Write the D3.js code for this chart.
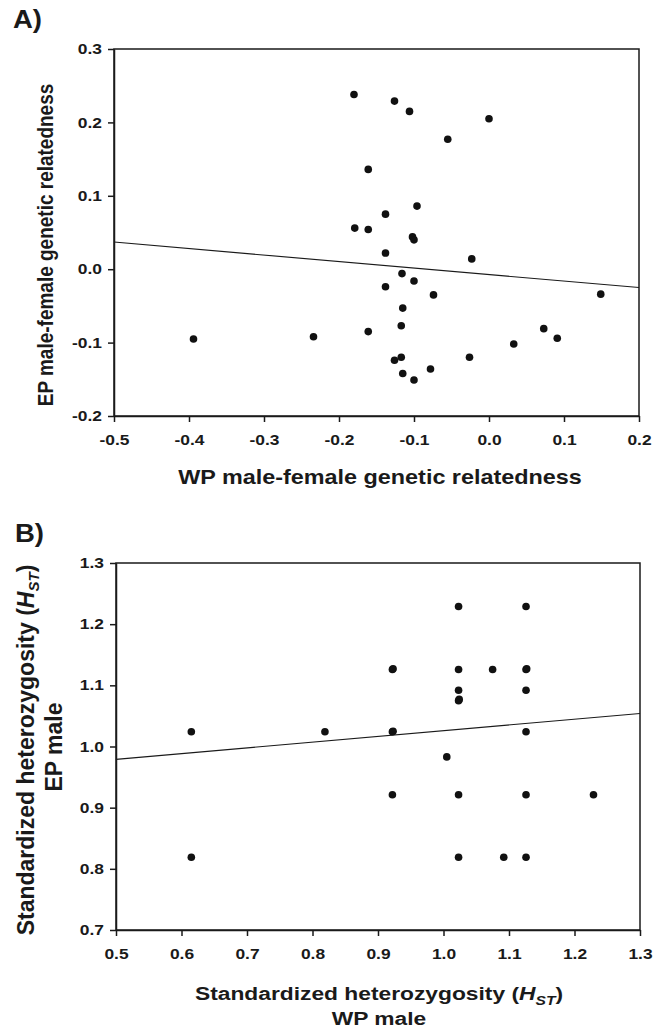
<!DOCTYPE html>
<html>
<head>
<meta charset="utf-8">
<style>
body { margin: 0; background: #fff; }
text { font-family: "Liberation Sans", Arial, Helvetica, sans-serif; font-weight: bold; fill: #1a1a1a; }
</style>
</head>
<body>
<div id="chart"></div>
<script src="https://d3js.org/d3.v7.min.js"></script>
<script>
// panel A: male-female genetic relatedness (WP vs EP)
var relWP = [-0.180, -0.126, -0.106, 0.000, -0.055, -0.161, -0.096, -0.138, -0.179, -0.161,
             -0.102, -0.100, -0.138, -0.023, -0.116, -0.100, -0.138, -0.074, 0.149, -0.115,
             -0.117, -0.161, 0.073, 0.091, -0.234, -0.394, 0.033, -0.126, -0.117, -0.026,
             -0.115, -0.078, -0.100];
var relEP = [0.238, 0.229, 0.215, 0.205, 0.177, 0.136, 0.086, 0.075, 0.056, 0.054,
             0.044, 0.040, 0.022, 0.014, -0.006, -0.016, -0.024, -0.035, -0.034, -0.053,
             -0.077, -0.085, -0.081, -0.094, -0.092, -0.095, -0.102, -0.124, -0.120, -0.120,
             -0.142, -0.136, -0.151];
var relFitX = [-0.5, 0.2];
var relFitY = [0.037, -0.025];
var relXTicks = [-0.5, -0.4, -0.3, -0.2, -0.1, 0.0, 0.1, 0.2];
var relYTicks = [-0.2, -0.1, 0.0, 0.1, 0.2, 0.3];

// panel B: standardized heterozygosity (WP male vs EP male)
var hetWP = [0.615, 0.615, 0.819, 0.922, 0.923, 0.922, 0.923, 0.922, 1.023, 1.023,
             1.023, 1.023, 1.024, 1.005, 1.023, 1.023, 1.075, 1.092, 1.126, 1.126,
             1.127, 1.126, 1.126, 1.126, 1.126, 1.229];
var hetEP = [1.024, 0.819, 1.024, 1.126, 1.127, 1.024, 1.025, 0.921, 1.229, 1.126,
             1.092, 1.075, 1.077, 0.983, 0.921, 0.819, 1.126, 0.819, 1.229, 1.126,
             1.127, 1.092, 1.024, 0.921, 0.819, 0.921];
var hetFitX = [0.5, 1.3];
var hetFitY = [0.979, 1.054];
var hetXTicks = [0.5, 0.6, 0.7, 0.8, 0.9, 1.0, 1.1, 1.2, 1.3];
var hetYTicks = [0.7, 0.8, 0.9, 1.0, 1.1, 1.2, 1.3];

var W = 665, H = 1029;
var SX = 1.2; // the figure is a little wider than its type

var svg = d3.select("#chart").append("svg")
    .attr("width", W).attr("height", H);

// plain hyphen for negatives, like the original
var fmt = function (v) { return d3.format(".1f")(v).replace("\u2212", "-"); };

function drawPanel(p) {
    var x = d3.scaleLinear().domain(p.xDomain).range([p.left, p.right]);
    var y = d3.scaleLinear().domain(p.yDomain).range([p.bottom, p.top]);
    var g = svg.append("g");

    // frame
    g.append("rect")
        .attr("x", p.left).attr("y", p.top)
        .attr("width", p.right - p.left).attr("height", p.bottom - p.top)
        .attr("fill", "none").attr("stroke", "#1a1a1a").attr("stroke-width", 1.5);

    var xa = g.append("g")
        .attr("transform", "translate(0," + p.bottom + ")")
        .call(d3.axisBottom(x).tickValues(p.xTicks).tickFormat(fmt).tickSize(6).tickSizeOuter(0));
    xa.selectAll("text")
        .attr("y", 19)
        .attr("transform", "scale(" + SX + ",1)")
        .style("font-size", "14.5px");

    var ya = g.append("g")
        .attr("transform", "translate(" + p.left + ",0)")
        .call(d3.axisLeft(y).tickValues(p.yTicks).tickFormat(fmt).tickSize(6).tickSizeOuter(0));
    ya.selectAll("text")
        .attr("x", -12 / SX)
        .attr("transform", "scale(" + SX + ",1)")
        .style("font-size", "14.5px");

    g.selectAll(".domain, .tick line")
        .attr("stroke", "#1a1a1a").attr("stroke-width", 1.5);
    g.selectAll(".tick text").attr("fill", "#1a1a1a");

    // regression line
    var fit = d3.line().x(function (d) { return x(d[0]); }).y(function (d) { return y(d[1]); });
    g.append("path")
        .datum(d3.zip(p.fitX, p.fitY))
        .attr("d", fit)
        .attr("fill", "none").attr("stroke", "#1a1a1a").attr("stroke-width", 1.1);

    g.selectAll("circle")
        .data(d3.zip(p.xs, p.ys))
        .enter().append("circle")
        .attr("cx", function (d) { return x(d[0]); })
        .attr("cy", function (d) { return y(d[1]); })
        .attr("r", 3.8)
        .attr("fill", "#111");

    // panel letter
    svg.append("text")
        .attr("transform", "translate(" + p.letterX + "," + p.letterY + ") scale(1.1,1)")
        .style("font-size", "25px")
        .text(p.letter);

    return g;
}

function hst(sel, sub) {
    // "(H_ST)" with italic H and subscript ST
    sel.append("tspan").text("(");
    sel.append("tspan").style("font-style", "italic").text("H");
    sel.append("tspan").style("font-style", "italic").style("font-size", sub + "px")
        .attr("dy", 5).text("ST");
    sel.append("tspan").attr("dy", -5).text(")");
}

// ---- panel A
drawPanel({
    xDomain: [-0.5, 0.2], yDomain: [-0.2, 0.3],
    left: 114, right: 639, top: 49, bottom: 416,
    xTicks: relXTicks, yTicks: relYTicks,
    xs: relWP, ys: relEP, fitX: relFitX, fitY: relFitY,
    letter: "A)", letterX: 13, letterY: 28
});

svg.append("text")
    .attr("transform", "translate(380,484) scale(" + SX + ",1)")
    .attr("text-anchor", "middle")
    .style("font-size", "19.5px")
    .text("WP male-female genetic relatedness");

svg.append("text")
    .attr("transform", "translate(53,245) scale(" + SX + ",1) rotate(-90)")
    .attr("text-anchor", "middle")
    .style("font-size", "19px")
    .text("EP male-female genetic relatedness");

// ---- panel B
drawPanel({
    xDomain: [0.5, 1.3], yDomain: [0.7, 1.3],
    left: 116, right: 640, top: 563, bottom: 930,
    xTicks: hetXTicks, yTicks: hetYTicks,
    xs: hetWP, ys: hetEP, fitX: hetFitX, fitY: hetFitY,
    letter: "B)", letterX: 15, letterY: 542
});

var bx = svg.append("text")
    .attr("transform", "translate(379,1000) scale(" + SX + ",1)")
    .attr("text-anchor", "middle")
    .style("font-size", "19px");
bx.append("tspan").text("Standardized heterozygosity ");
hst(bx, 13);

svg.append("text")
    .attr("transform", "translate(379,1025) scale(" + SX + ",1)")
    .attr("text-anchor", "middle")
    .style("font-size", "19px")
    .text("WP male");

// the left title of panel B is set taller and not widened
var by = svg.append("text")
    .attr("transform", "translate(34,750) rotate(-90)")
    .attr("text-anchor", "middle")
    .style("font-size", "23px");
by.append("tspan").text("Standardized heterozygosity ");
hst(by, 15);

svg.append("text")
    .attr("transform", "translate(62,747) rotate(-90)")
    .attr("text-anchor", "middle")
    .style("font-size", "23px")
    .text("EP male");
</script>
</body>
</html>
